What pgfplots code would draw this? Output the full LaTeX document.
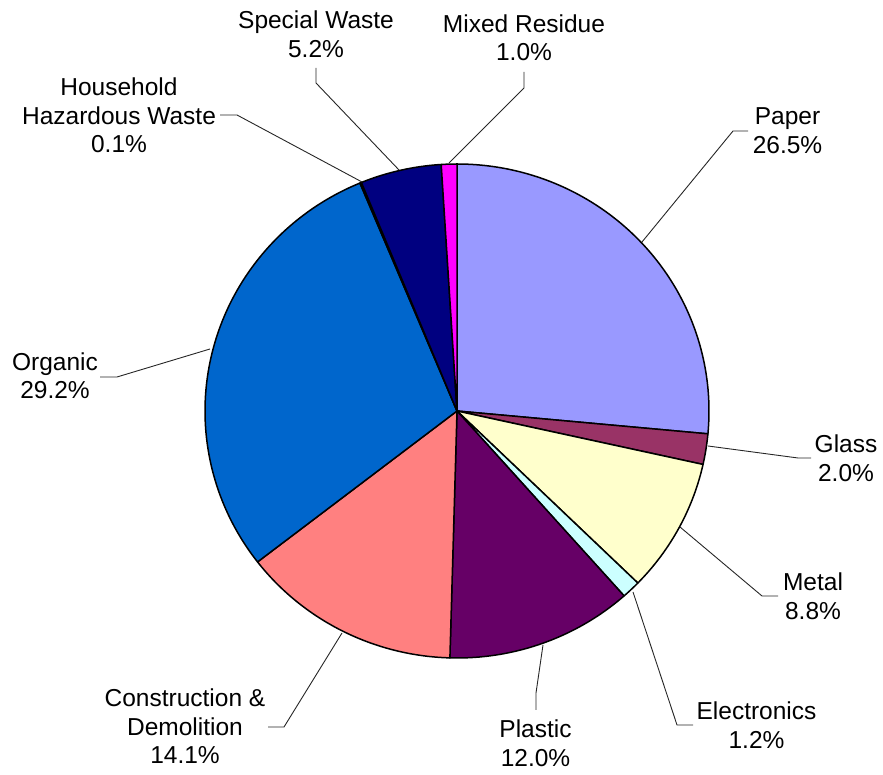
\documentclass[border=0pt]{standalone}
\usepackage{pgfplots}
\pgfplotsset{compat=1.18}
\usepackage{fontspec}
\setmainfont{Liberation Sans}
\definecolor{cPaper}{HTML}{9999FF}
\definecolor{cGlass}{HTML}{993366}
\definecolor{cMetal}{HTML}{FFFFCC}
\definecolor{cElec}{HTML}{CCFFFF}
\definecolor{cPlastic}{HTML}{660066}
\definecolor{cCD}{HTML}{FF8080}
\definecolor{cOrganic}{HTML}{0066CC}
\definecolor{cHHW}{HTML}{CCCCFF}
\definecolor{cSpecial}{HTML}{000080}
\definecolor{cMixed}{HTML}{FF00FF}
\newcommand{\lbl}[3]{\node[align=center,inner sep=0pt,anchor=center] at (axis cs:#1,{775-#2}) {#3};}
\newcommand{\lead}[6]{\draw[line width=0.9pt,black!85] (axis cs:#1,{775-#2}) -- (axis cs:#3,{775-#4}) -- (axis cs:#5,{775-#6});}
\begin{document}
\begin{tikzpicture}
\begin{axis}[
  width=883pt, height=775pt, scale only axis,
  xmin=0, xmax=883, ymin=0, ymax=775,
  hide axis, clip=false,
  font=\fontsize{24.5}{28.5}\selectfont,
]
\path (rel axis cs:0,0) rectangle (rel axis cs:1,1);
\gdef\cum{0}
\foreach \p/\c in {26.5/cPaper, 2.0/cGlass, 8.8/cMetal, 1.2/cElec, 12.0/cPlastic, 14.1/cCD, 29.2/cOrganic, 0.1/cHHW, 5.2/cSpecial, 1.0/cMixed}{
  \pgfmathsetmacro\aS{90-360/100.1*\cum}
  \pgfmathsetmacro\aE{90-360/100.1*(\cum+\p)}
  \edef\doit{\noexpand\addplot[draw=black, line width=1.5pt, line join=round, fill=\c, domain=\aE:\aS, samples=120, variable=\noexpand\t] ({457+252*cos(\noexpand\t)},{364+247*sin(\noexpand\t)}) -- (axis cs:457,364) -- cycle;}
  \doit
  \pgfmathsetmacro\n{\cum+\p}\xdef\cum{\n}
}
% leader lines
\lead{316}{68}{316}{83}{399}{170}
\lead{524}{72}{524}{88}{449}{163}
\lead{220}{115}{237}{115}{362}{182}
\lead{642}{242}{733}{131}{748}{131}
\lead{100}{377}{117}{377}{210}{349}
\lead{708}{446}{798}{458}{811}{458}
\lead{680}{527}{762}{596}{778}{596}
\lead{633}{592}{677}{725}{693}{725}
\lead{543}{645}{536}{693}{536}{710}
\lead{342}{633}{284}{727}{268}{727}
% labels
\lbl{316}{34.5}{Special Waste\\5.2\%}
\lbl{524}{38}{Mixed Residue\\1.0\%}
\lbl{119}{115.5}{Household\\Hazardous Waste\\0.1\%}
\lbl{787.5}{130.5}{Paper\\26.5\%}
\lbl{55}{376}{Organic\\29.2\%}
\lbl{846}{458.5}{Glass\\2.0\%}
\lbl{813}{596}{Metal\\8.8\%}
\lbl{756.5}{725}{Electronics\\1.2\%}
\lbl{535.5}{743}{Plastic\\12.0\%}
\lbl{185}{726.5}{Construction \&\\Demolition\\14.1\%}
\end{axis}
\end{tikzpicture}
\end{document}
